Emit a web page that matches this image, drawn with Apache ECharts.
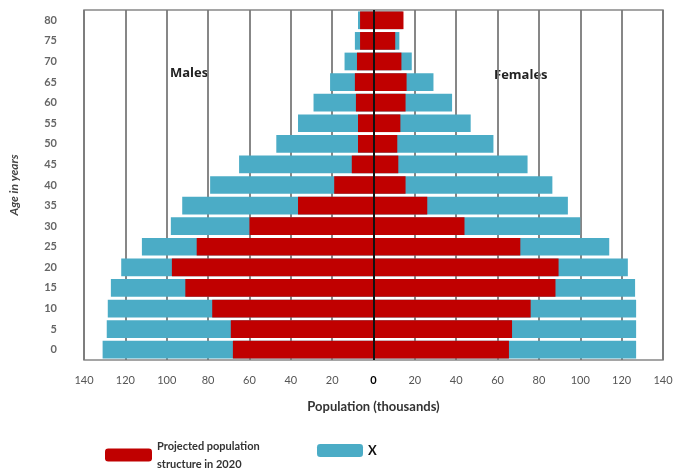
<!DOCTYPE html>
<html>
<head>
<meta charset="utf-8">
<script src="https://cdn.jsdelivr.net/npm/echarts@6/dist/echarts.min.js"></script>
<style>
  html, body { margin: 0; padding: 0; background: #fff; }
  #main { width: 679px; height: 472px; }
</style>
</head>
<body>
<div id="main"></div>
<script>
// age groups, bottom to top
var ages = ['0', '5', '10', '15', '20', '25', '30', '35', '40', '45', '50', '55', '60', '65', '70', '75', '80'];
// X (blue), thousands
var maleX = [131, 129, 128.5, 127, 122, 112, 98, 92.5, 79, 65, 47, 36.5, 29, 21, 14, 9, 7.5];
var femaleX = [127, 127, 127, 126.5, 123, 114, 100, 94, 86.5, 74.5, 58, 47, 38, 29, 18.5, 12.5, 14];
// projected 2020 (red), thousands
var maleProj = [68, 69, 78, 91, 97.5, 85.5, 60, 36.5, 19, 10.5, 7.5, 7.5, 8.5, 9, 8, 6.5, 6.5];
var femaleProj = [65.5, 67, 76, 88, 89.5, 71, 44, 26, 15.5, 12, 11.5, 13, 15.5, 16, 13.5, 10.5, 14.5];

var RED = '#c00000', BLUE = '#4bacc6';
var projName = 'Projected population\nstructure in 2020';
var neg = function (a) { return a.map(function (v) { return -v; }); };

var myChart = echarts.init(document.getElementById('main'));
var font = 'Lato, "Open Sans", sans-serif';

var option = {
  animation: false,
  textStyle: { fontFamily: font },
  grid: { left: 79, right: 16, top: 10, bottom: 112, show: true, borderColor: '#888', borderWidth: 1.5 },
  xAxis: {
    type: 'value', min: -140, max: 140, interval: 20,
    name: 'Population (thousands)', nameLocation: 'middle', nameGap: 40,
    nameTextStyle: { fontSize: 13, fontWeight: 'bold', color: '#333', fontFamily: font },
    axisLine: { show: false }, axisTick: { show: false },
    axisLabel: {
      margin: 15, color: '#555', fontSize: 11, fontFamily: font,
      formatter: function (v) { return v === 0 ? '{z|0}' : String(Math.abs(v)); },
      rich: { z: { color: '#000', fontWeight: 'bold', fontSize: 11, fontFamily: font } }
    },
    splitLine: { show: true, lineStyle: { color: '#7a7a7a', width: 1.8 } }
  },
  yAxis: {
    type: 'category', data: ages,
    name: 'Age in years', nameLocation: 'middle', nameGap: 64,
    nameTextStyle: { fontSize: 12, fontWeight: 'bold', fontStyle: 'italic', color: '#444', fontFamily: font },
    axisLine: { show: false }, axisTick: { show: false },
    axisLabel: { margin: 27, color: '#666', fontSize: 11, fontWeight: 'bold', fontFamily: font }
  },
  legend: [
    {
      data: [projName], left: 100, top: 432, itemWidth: 47, itemHeight: 13, itemGap: 6,
      textStyle: { fontSize: 11, fontWeight: 'bold', color: '#333', lineHeight: 18, fontFamily: font }
    },
    {
      data: ['X'], left: 312, top: 439, itemWidth: 46, itemHeight: 13, itemGap: 8,
      textStyle: { fontSize: 13, fontWeight: 'bold', color: '#111', fontFamily: font }
    }
  ],
  graphic: [
    { type: 'text', left: 170, top: 67, style: { text: 'Males', font: 'bold 13px "Open Sans", sans-serif', fill: '#222' } },
    { type: 'text', left: 494, top: 69, style: { text: 'Females', font: 'bold 13px "Open Sans", sans-serif', fill: '#222' } }
  ],
  series: [
    { name: 'X', type: 'bar', stack: 'x', data: neg(maleX), itemStyle: { color: BLUE }, barCategoryGap: '14%', barGap: '-100%' },
    { name: 'X', type: 'bar', stack: 'x', data: femaleX, itemStyle: { color: BLUE } },
    { name: projName, type: 'bar', stack: 'p', data: neg(maleProj), itemStyle: { color: RED } },
    {
      name: projName, type: 'bar', stack: 'p', data: femaleProj, itemStyle: { color: RED },
      markLine: {
        silent: true, symbol: 'none', label: { show: false },
        lineStyle: { color: '#111', width: 2, type: 'solid' },
        data: [{ xAxis: 0 }]
      }
    }
  ]
};

myChart.setOption(option);
</script>
</body>
</html>
